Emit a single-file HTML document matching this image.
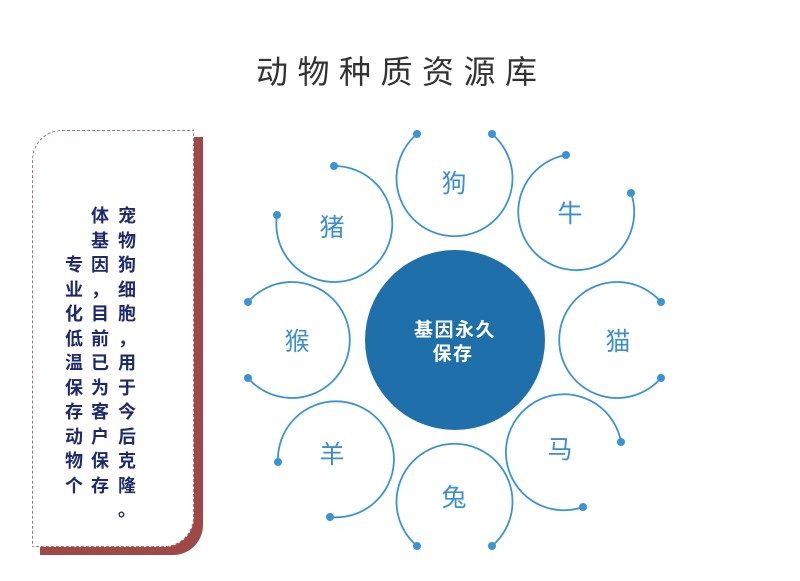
<!DOCTYPE html>
<html><head><meta charset="utf-8"><style>
html,body{margin:0;padding:0;background:#fff;}
body{width:800px;height:581px;position:relative;overflow:hidden;font-family:"Liberation Sans","Noto Sans CJK SC",sans-serif;}
.title{position:absolute;left:256px;top:50px;font-size:32px;line-height:44px;letter-spacing:9.5px;color:#333;white-space:nowrap;font-family:"Liberation Sans","Noto Sans CJK SC",sans-serif;}
.shadow{position:absolute;left:40px;top:137px;width:163px;height:418px;background:#9e4848;border-radius:30px 0 30px 0;}
.box{position:absolute;left:32px;top:130px;width:162px;height:417px;background:#fff;border:1px dashed #b07070;border-radius:30px 0 30px 0;box-sizing:border-box;}
.col{position:absolute;width:22px;font-size:18px;line-height:24.5px;font-weight:bold;color:#1f2a6e;text-align:center;}
.col span{display:block;height:24.5px;}
</style></head><body>
<div class="title">动物种质资源库</div>
<div class="shadow"></div>
<div class="box"></div>
<div class="col" style="left:116px;top:204px;"><span>宠</span><span>物</span><span>狗</span><span>细</span><span>胞</span><span>，</span><span>用</span><span>于</span><span>今</span><span>后</span><span>克</span><span>隆</span><span>。</span></div>
<div class="col" style="left:89px;top:204px;"><span>体</span><span>基</span><span>因</span><span>，</span><span>目</span><span>前</span><span>已</span><span>为</span><span>客</span><span>户</span><span>保</span><span>存</span></div>
<div class="col" style="left:63px;top:253px;"><span>专</span><span>业</span><span>化</span><span>低</span><span>温</span><span>保</span><span>存</span><span>动</span><span>物</span><span>个</span></div>
<svg width="800" height="581" style="position:absolute;left:0;top:0" xmlns="http://www.w3.org/2000/svg">
<g fill="none" stroke="#3a93d6" stroke-width="1.8">
<path d="M417 134 A58 58 0 1 0 492 134"/>
<path d="M566 155 A58 58 0 1 0 631 193"/>
<path d="M661 302 A58 58 0 1 0 661 378"/>
<path d="M621 442 A58 58 0 1 0 583 507"/>
<path d="M492 546 A58 58 0 1 0 417 546"/>
<path d="M330 517 A58 58 0 1 0 278 462"/>
<path d="M248 378 A58 58 0 1 0 248 302"/>
<path d="M277 215 A58 58 0 1 0 334 166"/>
</g>
<g fill="#3a93d6">
<circle cx="417" cy="134" r="4"/><circle cx="492" cy="134" r="4"/>
<circle cx="566" cy="155" r="4"/><circle cx="631" cy="193" r="4"/>
<circle cx="661" cy="302" r="4"/><circle cx="661" cy="378" r="4"/>
<circle cx="621" cy="442" r="4"/><circle cx="583" cy="507" r="4"/>
<circle cx="492" cy="546" r="4"/><circle cx="417" cy="546" r="4"/>
<circle cx="330" cy="517" r="4"/><circle cx="278" cy="462" r="4"/>
<circle cx="248" cy="378" r="4"/><circle cx="248" cy="302" r="4"/>
<circle cx="277" cy="215" r="4"/><circle cx="334" cy="166" r="4"/>
</g>
<circle cx="455" cy="340" r="90" fill="#1f70aa"/>
<g font-family="Liberation Sans, Noto Sans CJK SC, sans-serif" font-weight="bold" font-size="19" fill="#fff" text-anchor="middle" letter-spacing="1.5">
<text x="455" y="336">基因永久</text>
<text x="453" y="360">保存</text>
</g>
<g font-family="Liberation Sans, Noto Sans CJK SC, sans-serif" font-size="25" fill="#3b8fd0" text-anchor="middle">
<text x="454" y="192">狗</text>
<text x="570" y="222">牛</text>
<text x="618" y="350">猫</text>
<text x="560" y="458">马</text>
<text x="454" y="506">兔</text>
<text x="332" y="463">羊</text>
<text x="297" y="350">猴</text>
<text x="332" y="236">猪</text>
</g>
</svg>
</body></html>
